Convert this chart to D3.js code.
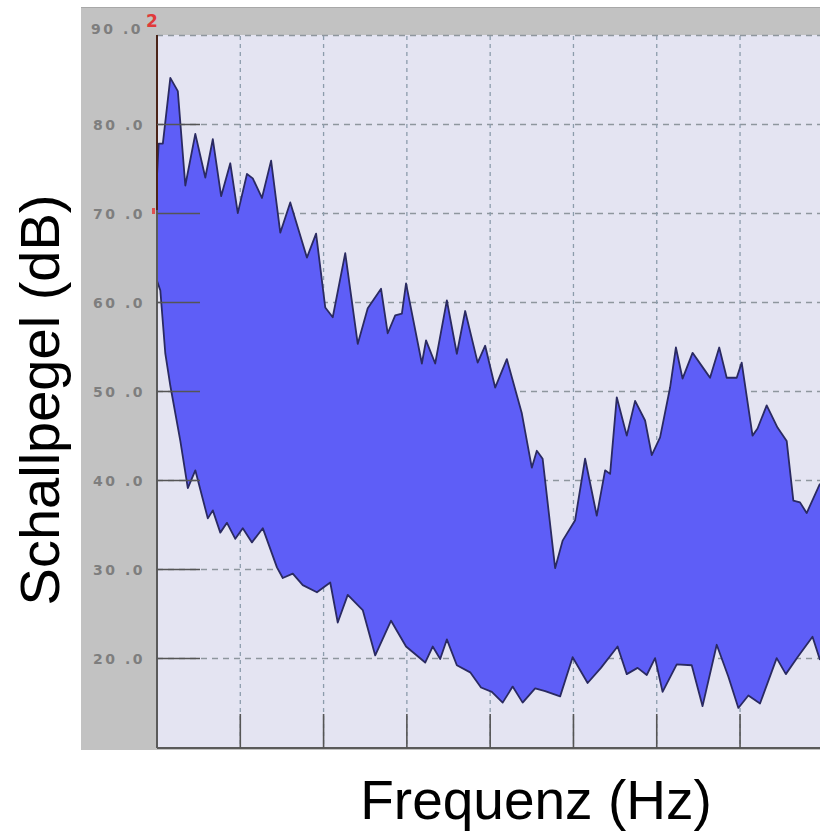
<!DOCTYPE html>
<html>
<head>
<meta charset="utf-8">
<script src="https://cdn.jsdelivr.net/npm/d3@7/dist/d3.min.js"></script>
<style>
  body { margin: 0; background: #fff; }
  svg { display: block; }
</style>
</head>
<body>
<div id="chart"></div>
<script>
// frequency axis in grid units (no labels on the original), level in dB
var yTicks = [20, 30, 40, 50, 60, 70, 80, 90];
var xTicks = [1, 2, 3, 4, 5, 6, 7, 8];

// upper envelope of the spectrum
var upperFreq = [0.00, 0.02, 0.07, 0.16, 0.25, 0.34, 0.46, 0.58, 0.67, 0.77, 0.88, 0.97, 1.08, 1.15, 1.26, 1.37,
  1.48, 1.60, 1.80, 1.91, 2.02, 2.11, 2.26, 2.41, 2.53, 2.69, 2.77, 2.86, 2.94, 2.99, 3.18, 3.23, 3.34, 3.48,
  3.60, 3.70, 3.85, 3.94, 4.06, 4.20, 4.38, 4.50, 4.56, 4.63, 4.78, 4.87, 5.02, 5.14, 5.28, 5.38, 5.44, 5.52,
  5.64, 5.74, 5.86, 5.94, 6.04, 6.16, 6.23, 6.31, 6.43, 6.58, 6.64, 6.75, 6.84, 6.96, 7.02, 7.15, 7.21, 7.32,
  7.45, 7.56, 7.64, 7.72, 7.80, 7.96];
var upperDb = [74.3, 77.9, 77.9, 85.3, 83.8, 73.2, 79.0, 74.1, 78.4, 72.0, 75.7, 70.1, 74.5, 74.0, 71.8, 76.0,
  67.9, 71.3, 65.1, 67.8, 59.5, 58.4, 65.6, 55.4, 59.4, 61.6, 56.6, 58.6, 58.8, 62.2, 53.2, 55.8, 53.2, 60.3,
  54.3, 59.1, 53.3, 55.2, 50.5, 53.7, 47.6, 41.5, 43.4, 42.5, 30.2, 33.3, 35.6, 42.5, 36.1, 41.2, 40.8, 49.4,
  45.1, 49.0, 46.8, 42.9, 44.9, 50.5, 55.0, 51.5, 54.4, 52.4, 51.6, 55.0, 51.6, 51.6, 53.3, 45.1, 45.9, 48.5,
  46.0, 44.5, 37.8, 37.6, 36.4, 39.7];

// lower envelope of the spectrum
var lowerFreq = [0.00, 0.04, 0.10, 0.16, 0.28, 0.37, 0.46, 0.61, 0.67, 0.76, 0.84, 0.94, 1.03, 1.14, 1.27, 1.44,
  1.51, 1.63, 1.75, 1.92, 2.08, 2.17, 2.29, 2.47, 2.62, 2.81, 2.99, 3.22, 3.31, 3.40, 3.48, 3.60, 3.76, 3.89,
  4.02, 4.15, 4.27, 4.39, 4.54, 4.66, 4.84, 4.99, 5.17, 5.33, 5.53, 5.64, 5.77, 5.88, 5.98, 6.07, 6.24, 6.42,
  6.55, 6.72, 6.86, 6.98, 7.10, 7.24, 7.44, 7.55, 7.69, 7.87, 7.96];
var lowerDb = [62.5, 61.4, 54.3, 50.7, 44.5, 39.2, 41.2, 35.8, 36.7, 34.2, 35.3, 33.5, 34.7, 33.1, 34.7, 30.3,
  29.1, 29.6, 28.3, 27.5, 28.6, 24.1, 27.2, 25.5, 20.4, 24.3, 21.4, 19.6, 21.4, 20.0, 22.2, 19.3, 18.5, 16.8,
  16.3, 15.1, 16.9, 15.1, 16.7, 16.4, 15.8, 20.2, 17.3, 19.0, 21.4, 18.3, 19.0, 18.2, 20.1, 16.3, 19.4, 19.3,
  14.7, 21.6, 18.0, 14.5, 15.9, 15.0, 20.1, 18.3, 20.2, 22.5, 19.9];

//svg dimensions
var svgWidth = 820;
var svgHeight = 833;

// plot box (the right side is cut off like in the screenshot)
var plot = { left: 157, right: 820, top: 36, bottom: 748 };

var svg = d3.select("#chart")
  .append("svg")
  .attr("width", svgWidth)
  .attr("height", svgHeight);

// scales
var xScale = d3.scaleLinear()
  .domain([0, 7.96])
  .range([plot.left, plot.right]);

var yScale = d3.scaleLinear()
  .domain([10, 90])
  .range([plot.bottom, plot.top]);

// gray panel + plot background
svg.append("rect")
  .attr("x", 81).attr("y", 7)
  .attr("width", svgWidth - 81).attr("height", 743)
  .attr("fill", "#c2c2c2");
svg.append("line")
  .attr("x1", 81).attr("x2", svgWidth).attr("y1", 7.5).attr("y2", 7.5)
  .attr("stroke", "#a8a8a8");

svg.append("rect")
  .attr("x", plot.left).attr("y", plot.top - 1)
  .attr("width", plot.right - plot.left).attr("height", plot.bottom - plot.top + 1)
  .attr("fill", "#e4e4f2");

var defs = svg.append("defs");
defs.append("clipPath").attr("id", "clip")
  .append("rect")
  .attr("x", plot.left).attr("y", plot.top - 1)
  .attr("width", plot.right - plot.left).attr("height", plot.bottom - plot.top + 1);

var grid = svg.append("g");

// horizontal dashed gridlines
grid.selectAll(".hgrid")
  .data(yTicks)
  .enter()
  .append("line")
  .attr("x1", plot.left).attr("x2", plot.right)
  .attr("y1", d => Math.round(yScale(d)) - 0.5)
  .attr("y2", d => Math.round(yScale(d)) - 0.5)
  .attr("stroke", "#8e969e")
  .attr("stroke-width", 1.3)
  .attr("stroke-dasharray", "6,5");

// vertical dotted gridlines
grid.selectAll(".vgrid")
  .data(xTicks)
  .enter()
  .append("line")
  .attr("x1", d => xScale(d)).attr("x2", d => xScale(d))
  .attr("y1", plot.top).attr("y2", plot.bottom)
  .attr("stroke", "#8c9cac")
  .attr("stroke-width", 1.3)
  .attr("stroke-dasharray", "4,4");

// build the band: upper envelope left to right, lower envelope back
var upperPts = upperFreq.map((f, i) => [xScale(f), yScale(upperDb[i])]);
var lowerPts = lowerFreq.map((f, i) => [xScale(f), yScale(lowerDb[i])]);
var bandPts = upperPts.concat(lowerPts.slice().reverse());

var line = d3.line();

var band = svg.append("g").attr("clip-path", "url(#clip)");

band.append("path")
  .attr("d", line(bandPts) + "Z")
  .attr("fill", "#5e5ef7");

band.selectAll(".edge")
  .data([upperPts, lowerPts])
  .enter()
  .append("path")
  .attr("d", d => line(d))
  .attr("fill", "none")
  .attr("stroke", "#2a2a62")
  .attr("stroke-width", 1.8)
  .attr("stroke-linejoin", "round");

// axes: left line, bottom line, solid short ticks
svg.append("line")
  .attr("x1", plot.left).attr("x2", plot.left)
  .attr("y1", plot.top - 1).attr("y2", plot.bottom)
  .attr("stroke", "#5a5a5a").attr("stroke-width", 2);
svg.append("line")
  .attr("x1", plot.left).attr("x2", plot.left)
  .attr("y1", plot.top - 1).attr("y2", 210)
  .attr("stroke", "#4a2418").attr("stroke-width", 2);

svg.append("line")
  .attr("x1", plot.left).attr("x2", plot.right)
  .attr("y1", plot.bottom).attr("y2", plot.bottom)
  .attr("stroke", "#5a5a5a").attr("stroke-width", 2);

svg.selectAll(".ytick")
  .data(yTicks.filter(d => d < 90))
  .enter()
  .append("line")
  .attr("x1", plot.left).attr("x2", plot.left + 43)
  .attr("y1", d => Math.round(yScale(d)) - 0.5)
  .attr("y2", d => Math.round(yScale(d)) - 0.5)
  .attr("stroke", "#555")
  .attr("stroke-width", 1.6);

svg.selectAll(".xtick")
  .data(xTicks)
  .enter()
  .append("line")
  .attr("x1", d => xScale(d)).attr("x2", d => xScale(d))
  .attr("y1", plot.bottom).attr("y2", plot.bottom - 34)
  .attr("stroke", "#555")
  .attr("stroke-width", 1.6);

// y tick labels ("90 .0" style)
svg.selectAll(".ylabel")
  .data(yTicks)
  .enter()
  .append("text")
  .attr("x", d => d === 90 ? 143 : 145)
  .attr("y", d => d === 90 ? yScale(d) - 7 : yScale(d))
  .attr("dy", "0.36em")
  .attr("text-anchor", "end")
  .attr("font-family", "DejaVu Sans, sans-serif")
  .attr("font-weight", "bold")
  .attr("font-size", 14)
  .attr("letter-spacing", 2.5)
  .attr("fill", "#7e7e7e")
  .text(d => d + " .0");

// red marker at the top left
svg.append("text")
  .attr("x", 152).attr("y", 27)
  .attr("text-anchor", "middle")
  .attr("font-family", "DejaVu Sans, sans-serif")
  .attr("font-weight", "bold")
  .attr("font-size", 17)
  .attr("fill", "#e03a3a")
  .text("2");
svg.append("rect")
  .attr("x", 152).attr("y", 208).attr("width", 3).attr("height", 6)
  .attr("fill", "#e05050");

// axis titles
svg.append("text")
  .attr("transform", "translate(59, 400) rotate(-90)")
  .attr("text-anchor", "middle")
  .attr("font-family", "Liberation Sans, Arial, sans-serif")
  .attr("font-size", 56)
  .attr("fill", "#000")
  .text("Schallpegel (dB)");

svg.append("text")
  .attr("x", 536).attr("y", 819)
  .attr("text-anchor", "middle")
  .attr("font-family", "Liberation Sans, Arial, sans-serif")
  .attr("font-size", 55)
  .attr("fill", "#000")
  .text("Frequenz (Hz)");
</script>
</body>
</html>
